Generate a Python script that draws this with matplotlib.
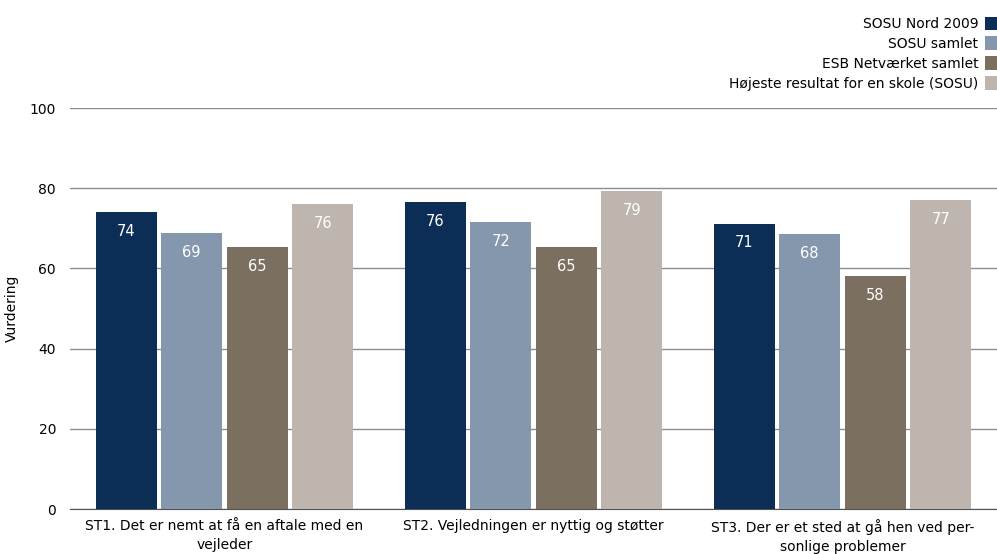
import numpy as np
import matplotlib.pyplot as plt

plt.rcParams['font.family'] = 'DejaVu Sans'
plt.rcParams['font.size'] = 10

categories = ['ST1. Det er nemt at få en aftale med en\nvejleder',
              'ST2. Vejledningen er nyttig og støtter',
              'ST3. Der er et sted at gå hen ved per-\nsonlige problemer']
series = ['SOSU Nord 2009', 'SOSU samlet', 'ESB Netværket samlet',
          'Højeste resultat for en skole (SOSU)']
sosu_nord = [74.1, 76.5, 71.2]
sosu_samlet = [68.8, 71.5, 68.5]
esb_samlet = [65.3, 65.3, 58.1]
hoejeste = [76.1, 79.4, 77.0]
colors = ['#0c2d55', '#8497ad', '#7b6f5f', '#bdb5ae']

values = [sosu_nord, sosu_samlet, esb_samlet, hoejeste]

fig = plt.figure(figsize=(9.97, 5.54), dpi=100)
ax = fig.add_axes([0.0702, 0.0812, 0.9298, 0.7238])

x = np.arange(len(categories))
slot = 0.212
width = 0.197
for i, (vals, name, c) in enumerate(zip(values, series, colors)):
    pos = x + (i - 1.5) * slot
    bars = ax.bar(pos, vals, width, color=c, label=name, zorder=3)
    for b, v in zip(bars, vals):
        ax.annotate(f'{v:.0f}', (b.get_x() + b.get_width() / 2, v),
                    xytext=(0, -14), textcoords='offset points',
                    ha='center', va='center', color='white', fontsize=10.5, zorder=4)

ax.set_xlim(-0.5, 2.5)
ax.set_ylim(0, 100)
ax.set_yticks([0, 20, 40, 60, 80, 100])
ax.yaxis.grid(True, color='#8c8c8c', linewidth=1, zorder=0)
ax.set_axisbelow(True)
ax.set_xticks(x)
ax.set_xticklabels(categories, linespacing=1.45)
ax.tick_params(axis='both', length=0)
ax.tick_params(axis='y', pad=10)
ax.tick_params(axis='x', pad=7)
for s in ['top', 'right', 'left']:
    ax.spines[s].set_visible(False)
ax.spines['bottom'].set_color('#505050')
ax.set_ylabel('Vurdering', labelpad=8)

ax.legend(loc='upper right', bbox_to_anchor=(1.0, 0.97), bbox_transform=fig.transFigure,
          markerfirst=False, frameon=False, handlelength=0.85, handleheight=1.15,
          handletextpad=0.5, labelspacing=0.38, borderaxespad=0.0, borderpad=0.0)

plt.savefig('out.png', dpi=100)
